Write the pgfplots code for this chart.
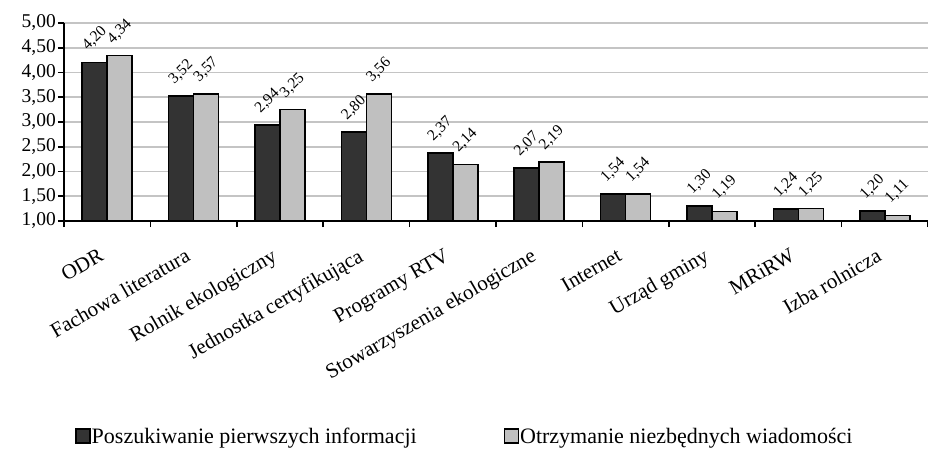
\documentclass[border=0pt]{standalone}
\usepackage{pgfplots}
\pgfplotsset{compat=1.18}
\usepackage{fontspec}
\setmainfont{Liberation Serif}
\definecolor{darkbar}{HTML}{333333}
\definecolor{lightbar}{HTML}{C0C0C0}
\definecolor{gridc}{HTML}{C4C4C4}
\begin{document}
\begin{tikzpicture}
\begin{axis}[
  scale only axis, width=864pt, height=198pt,
  ymin=1, ymax=5, ytick={1,1.5,2,2.5,3,3.5,4,4.5,5},
  xmin=-0.5, xmax=9.5,
  ybar=0pt, bar width=25pt,
  axis x line*=bottom, axis y line*=left,
  axis line style={-, line width=1.6pt, black},
  ymajorgrids, major grid style={line width=1.8pt, color=gridc},
  xtick={-0.5,0.5,...,9.5},
  x tick label as interval,
  xticklabels={ODR, Fachowa literatura, Rolnik ekologiczny, Jednostka certyfikująca, Programy RTV, Stowarzyszenia ekologiczne, Internet, Urząd gminy, MRiRW, Izba rolnicza},
  xticklabel style={font=\fontsize{21}{23}\selectfont, xshift=-9pt, yshift=-19pt, rotate=30, anchor=north east, inner sep=1pt},
  yticklabel style={font=\fontsize{19.5}{22}\selectfont, inner sep=2pt},
  tick align=outside, major tick length=6pt,
  tick style={black, line width=1.6pt},
  /pgf/number format/.cd, fixed, fixed zerofill, precision=2, use comma, assume math mode=true, /pgfplots/.cd,
  nodes near coords,
  every node near coord/.append style={font=\fontsize{15.5}{17}\selectfont, yshift=24pt, rotate=45, anchor=center, black},
  legend columns=2,
  legend style={draw=none, at={(0.464,-1.09)}, anchor=center, font=\fontsize{22}{24}\selectfont,
    /tikz/every even column/.append style={column sep=85pt},
    /tikz/every odd column/.append style={column sep=-1pt}},
  legend image code/.code={\draw[#1, line width=1.4pt] (0pt,-6pt) rectangle (14pt,8pt);},
  clip=false,
]
\addplot[fill=darkbar, draw=black, line width=1.6pt] coordinates {(0,4.20) (1,3.52) (2,2.94) (3,2.80) (4,2.37) (5,2.07) (6,1.54) (7,1.30) (8,1.24) (9,1.20)};
\addplot[fill=lightbar, draw=black, line width=1.6pt] coordinates {(0,4.34) (1,3.57) (2,3.25) (3,3.56) (4,2.14) (5,2.19) (6,1.54) (7,1.19) (8,1.25) (9,1.11)};
\legend{Poszukiwanie pierwszych informacji, Otrzymanie niezbędnych wiadomości}
\coordinate (bl) at (rel axis cs:0,0);
\end{axis}
\pgfresetboundingbox
\path[use as bounding box] (bl) ++(-64pt,-227pt) rectangle ++(928pt,448pt);
\end{tikzpicture}
\end{document}
